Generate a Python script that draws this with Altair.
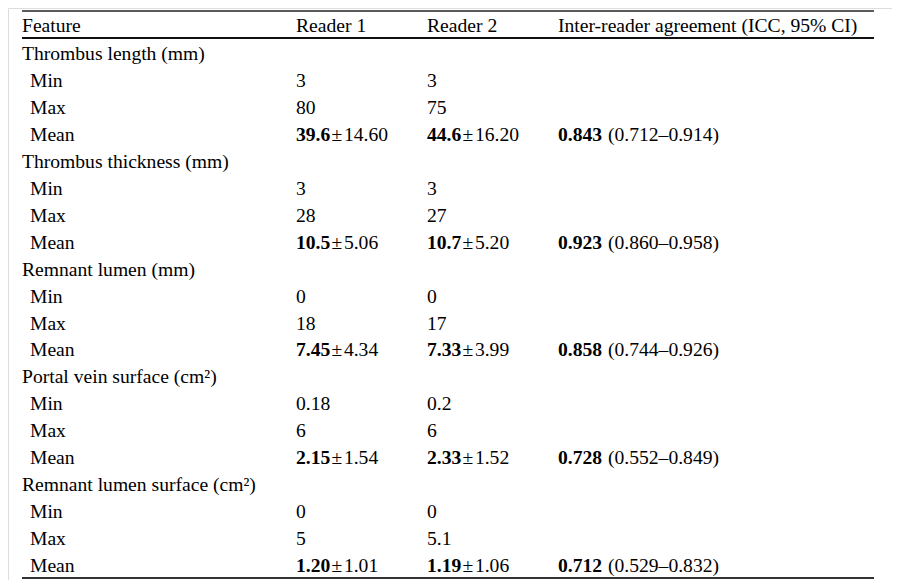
import altair as alt
import pandas as pd

# ---- data ----
header = ["Feature", "Reader 1", "Reader 2", "Inter-reader agreement (ICC, 95% CI)"]
features = ["Thrombus length (mm)", "Thrombus thickness (mm)", "Remnant lumen (mm)",
            "Portal vein surface (cm²)", "Remnant lumen surface (cm²)"]
stats = ["Min", "Max", "Mean"]
r1_min = ["3", "3", "0", "0.18", "0"]
r1_max = ["80", "28", "18", "6", "5"]
r1_mean = ["39.6", "10.5", "7.45", "2.15", "1.20"]
r1_sd = ["14.60", "5.06", "4.34", "1.54", "1.01"]
r2_min = ["3", "3", "0", "0.2", "0"]
r2_max = ["75", "27", "17", "6", "5.1"]
r2_mean = ["44.6", "10.7", "7.33", "2.33", "1.19"]
r2_sd = ["16.20", "5.20", "3.99", "1.52", "1.06"]
icc = ["0.843", "0.923", "0.858", "0.728", "0.712"]
ci_lo = ["0.712", "0.860", "0.744", "0.552", "0.529"]
ci_hi = ["0.914", "0.958", "0.926", "0.849", "0.832"]

# ---- layout / style ----
FONT = "Liberation Serif"
FS = 19.6
W, H = 884, 572
col_pos = {"feat": 14, "stat": 22, "r1": 288, "r2": 419, "icc": 550}

cells = []
for i, f in enumerate(features):
    b = i * 4
    cells.append(dict(row=b, col="feat", text=f, kind="plain"))
    cells.append(dict(row=b + 1, col="stat", text=stats[0], kind="plain"))
    cells.append(dict(row=b + 1, col="r1", text=r1_min[i], kind="plain"))
    cells.append(dict(row=b + 1, col="r2", text=r2_min[i], kind="plain"))
    cells.append(dict(row=b + 2, col="stat", text=stats[1], kind="plain"))
    cells.append(dict(row=b + 2, col="r1", text=r1_max[i], kind="plain"))
    cells.append(dict(row=b + 2, col="r2", text=r2_max[i], kind="plain"))
    cells.append(dict(row=b + 3, col="stat", text=stats[2], kind="plain"))
    cells.append(dict(row=b + 3, col="r1", text=r1_mean[i], kind="bold"))
    cells.append(dict(row=b + 3, col="r1", text="±\u200a" + r1_sd[i], kind="sd"))
    cells.append(dict(row=b + 3, col="r2", text=r2_mean[i], kind="bold"))
    cells.append(dict(row=b + 3, col="r2", text="±\u200a" + r2_sd[i], kind="sd"))
    cells.append(dict(row=b + 3, col="icc", text=icc[i], kind="bold"))
    cells.append(dict(row=b + 3, col="icc", text="(" + ci_lo[i] + "–" + ci_hi[i] + ")", kind="ci"))

df = pd.DataFrame(cells)
hdf = pd.DataFrame(dict(col=["feat", "r1", "r2", "icc"], text=header))

pos_expr = (
    "datum.col == 'feat' ? {feat} : datum.col == 'stat' ? {stat} : "
    "datum.col == 'r1' ? {r1} : datum.col == 'r2' ? {r2} : {icc}"
).format(**col_pos)

xs = alt.Scale(domain=[0, W], range=[0, W], nice=False, zero=False)
ys = alt.Scale(domain=[0, 19], range=[52, 52 + 26.95 * 19], nice=False, zero=False)

def txt(kind, weight="normal", dx=0):
    return alt.Chart(df).transform_filter(alt.datum.kind == kind).transform_calculate(
        xpos=pos_expr
    ).mark_text(
        font=FONT, fontSize=FS, fontWeight=weight, align="left", baseline="alphabetic",
        color="#000000", dx=dx
    ).encode(
        x=alt.X("xpos:Q", scale=xs, axis=None),
        y=alt.Y("row:Q", scale=ys, axis=None),
        text="text:N",
    )

head = alt.Chart(hdf).transform_calculate(xpos=pos_expr).mark_text(
    font=FONT, fontSize=FS, align="left", baseline="alphabetic", color="#000000"
).encode(
    x=alt.X("xpos:Q", scale=xs, axis=None),
    y=alt.value(24),
    text="text:N",
)

one = pd.DataFrame({"a": [0]})
rule_top = alt.Chart(one).mark_rule(color="#222222", strokeWidth=1.3).encode(
    x=alt.value(14), x2=alt.value(866), y=alt.value(3))
rule_head = alt.Chart(one).mark_rule(color="#111111", strokeWidth=2).encode(
    x=alt.value(14), x2=alt.value(866), y=alt.value(30))
rule_bot = alt.Chart(one).mark_rule(color="#333333", strokeWidth=2).encode(
    x=alt.value(14), x2=alt.value(866), y=alt.value(570))

chart = alt.layer(
    rule_top, rule_head, rule_bot, head,
    txt("plain"), txt("bold", "bold"), txt("sd", dx=35.5), txt("ci", dx=50),
).properties(width=W, height=H, padding=0).configure_view(stroke=None).configure(background="white")

chart.save("out.html", embed_options={"renderer": "svg", "actions": False})
